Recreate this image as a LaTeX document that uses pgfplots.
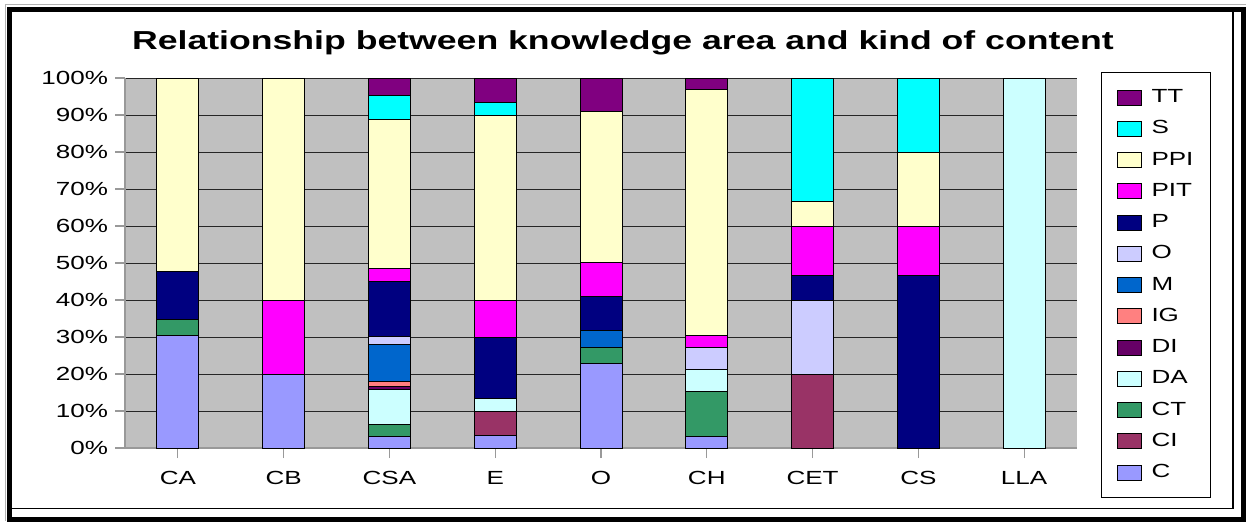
\documentclass[border=0pt]{standalone}
\usepackage{fontspec}
\setmainfont{Liberation Sans}[FakeStretch=1.37]
\usepackage{pgfplots}
\usepackage{pgfplotstable}
\pgfplotsset{compat=1.18}

\definecolor{cTT}{HTML}{800080}
\definecolor{cS}{HTML}{00FFFF}
\definecolor{cPPI}{HTML}{FFFFCC}
\definecolor{cPIT}{HTML}{FF00FF}
\definecolor{cP}{HTML}{000080}
\definecolor{cO}{HTML}{CCCCFF}
\definecolor{cM}{HTML}{0066CC}
\definecolor{cIG}{HTML}{FF8080}
\definecolor{cDI}{HTML}{660066}
\definecolor{cDA}{HTML}{CCFFFF}
\definecolor{cCT}{HTML}{339966}
\definecolor{cCI}{HTML}{993366}
\definecolor{cC}{HTML}{9999FF}
\definecolor{plotbg}{HTML}{C0C0C0}

% x: 0=CA 1=CB 2=CSA 3=E 4=O 5=CH 6=CET 7=CS 8=LLA
\pgfplotstableread{
x C     CI    CT    DA    DI   IG   M     O     P     PIT   PPI   S     TT
0 30.43 0     4.35  0     0    0    0     0     13.04 0     52.18 0     0
1 20    0     0     0     0    0    0     0     0     20    60    0     0
2 3.1   0     3.2   9.6   0.6  1.5  10.0  2.2   14.9  3.3   40.5  6.3   4.8
3 3.33  6.67  0     3.33  0    0    0     0     16.67 10    50    3.33  6.67
4 22.73 0     4.55  0     0    0    4.55  0     9.09  9.09  40.90 0     9.09
5 3.03  0     12.12 6.06  0    0    0     6.06  0     3.03  66.67 0     3.03
6 0     20    0     0     0    0    0     20    6.67  13.33 6.67  33.33 0
7 0     0     0     0     0    0    0     0     46.67 13.33 20    20    0
8 0     0     0     100   0    0    0     0     0     0     0     0     0
}\datatable

\begin{document}
\begin{tikzpicture}[x=0.5pt,y=0.5pt]
\useasboundingbox (0,0) rectangle (1246,521);
% chart area frame
\draw[gray!60, line width=0.5pt] (5,0) -- (5,516.5) -- (1246,516.5);
\draw[black, line width=2.5pt] (9.5,511.5) rectangle (1243.5,1.5);
\draw[black, line width=0.8pt] (1233,509) -- (1233,12.5) -- (12,12.5);
\begin{axis}[
  at={(62.5pt,36.5pt)}, anchor=south west,
  width=476pt, height=185pt, scale only axis,
  ybar stacked, bar width=21pt,
  xmin=-0.5, xmax=8.5, ymin=0, ymax=100,
  axis background/.style={fill=plotbg},
  axis x line*=bottom, axis y line*=left,
  axis line style={-, draw=gray!80, line width=0.6pt},
  every outer x axis line/.append style={-},
  every outer y axis line/.append style={-},
  xtick={0,...,8},
  xticklabels={CA,CB,CSA,E,O,CH,CET,CS,LLA},
  ytick={0,10,...,100},
  yticklabels={0\%,10\%,20\%,30\%,40\%,50\%,60\%,70\%,80\%,90\%,100\%},
  tick align=outside, major tick length=5pt,
  tick style={draw=gray!80, line width=0.6pt},
  ymajorgrids, grid style={black!85, line width=0.5pt},
  tick label style={font=\fontsize{9.5}{11}\selectfont},
  xticklabel style={yshift=-3pt},
  title={Relationship between knowledge area and kind of content},
  title style={font=\bfseries\fontsize{13}{15}\selectfont, at={(0.5231,1.1027)}, anchor=center, yshift=-7.5pt},
  every axis plot/.append style={draw=black, line width=0.5pt},
  reverse legend,
  legend image code/.code={\draw[#1, draw=black, line width=0.5pt] (0pt,-3.75pt) rectangle (12pt,3.75pt);},
  legend style={at={(1.0252,1.0162)}, anchor=north west, draw=black, line width=0.5pt, fill=white,
    font=\fontsize{9.5}{11}\selectfont, inner xsep=7.5pt, inner ysep=4.7pt, row sep=0pt,
    column sep=5pt, cells={anchor=west},
    nodes={minimum height=15.625pt, inner sep=0pt, text width=22pt}},
]
\addplot[fill=cC]   table[x=x,y=C]   {\datatable};
\addplot[fill=cCI]  table[x=x,y=CI]  {\datatable};
\addplot[fill=cCT]  table[x=x,y=CT]  {\datatable};
\addplot[fill=cDA]  table[x=x,y=DA]  {\datatable};
\addplot[fill=cDI]  table[x=x,y=DI]  {\datatable};
\addplot[fill=cIG]  table[x=x,y=IG]  {\datatable};
\addplot[fill=cM]   table[x=x,y=M]   {\datatable};
\addplot[fill=cO]   table[x=x,y=O]   {\datatable};
\addplot[fill=cP]   table[x=x,y=P]   {\datatable};
\addplot[fill=cPIT] table[x=x,y=PIT] {\datatable};
\addplot[fill=cPPI] table[x=x,y=PPI] {\datatable};
\addplot[fill=cS]   table[x=x,y=S]   {\datatable};
\addplot[fill=cTT]  table[x=x,y=TT]  {\datatable};
\legend{C,CI,CT,DA,DI,IG,M,O,P,PIT,PPI,S,TT}
\end{axis}
\end{tikzpicture}
\end{document}
